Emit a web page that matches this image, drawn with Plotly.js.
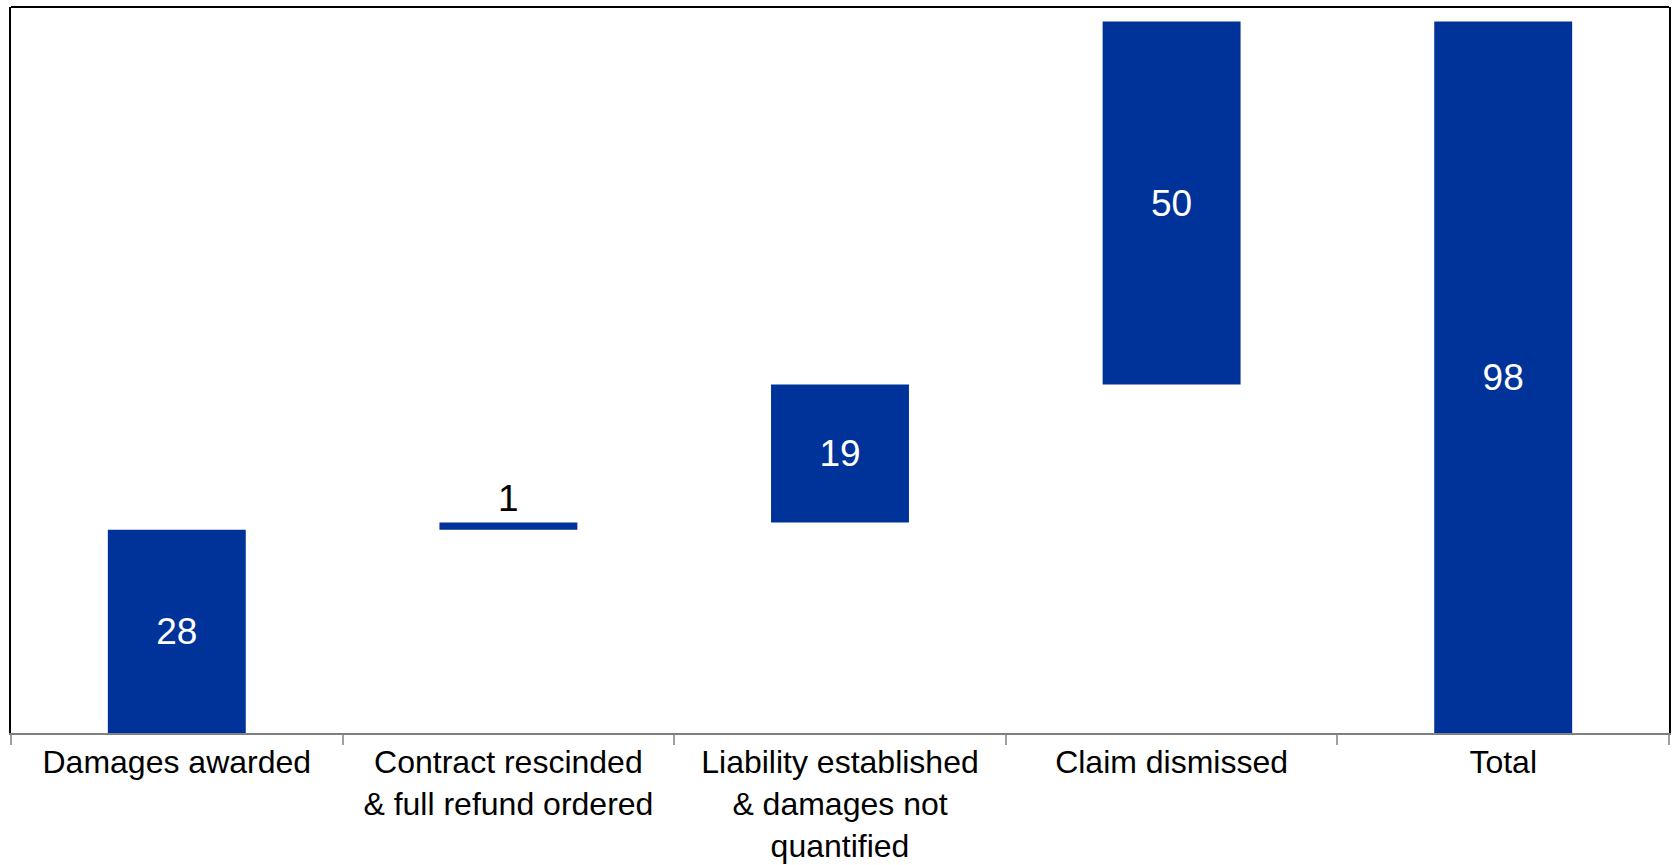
<!DOCTYPE html>
<html>
<head>
<meta charset="utf-8">
<script src="https://cdn.plot.ly/plotly-3.0.1.min.js"></script>
<style>html,body{margin:0;padding:0;background:#fff;}#chart{width:1675px;height:865px;}</style>
</head>
<body>
<div id="chart"></div>
<script>
var categories = [
  "Damages awarded",
  "Contract rescinded<br>& full refund ordered",
  "Liability established<br>& damages not<br>quantified",
  "Claim dismissed",
  "Total"
];
var values = [28, 1, 19, 50, 98];
var measures = ["relative", "relative", "relative", "relative", "total"];
var labels = ["28", "1", "19", "50", "98"];
var labelPositions = ["inside", "outside", "inside", "inside", "inside"];

var barColor = "#003399";

var trace = {
  type: "waterfall",
  x: categories,
  y: values,
  measure: measures,
  text: labels,
  textposition: labelPositions,
  insidetextanchor: "middle",
  textinfo: "text",
  insidetextfont: {family: "Liberation Sans, Arial, sans-serif", size: 37, color: "#ffffff"},
  outsidetextfont: {family: "Liberation Sans, Arial, sans-serif", size: 37, color: "#000000"},
  textangle: 0,
  constraintext: "none",
  cliponaxis: false,
  increasing: {marker: {color: barColor}},
  decreasing: {marker: {color: barColor}},
  totals: {marker: {color: barColor}},
  connector: {visible: false},
  hoverinfo: "none"
};

var layout = {
  width: 1675,
  height: 865,
  margin: {l: 11, r: 6, t: 7, b: 132},
  paper_bgcolor: "#ffffff",
  plot_bgcolor: "#ffffff",
  showlegend: false,
  waterfallgap: 0.584,
  font: {family: "Liberation Sans, Arial, sans-serif", size: 32, color: "#000000"},
  xaxis: {
    type: "category",
    tickson: "boundaries",
    ticks: "outside",
    ticklen: 10,
    tickwidth: 2,
    tickcolor: "#a0a0a0",
    showline: true,
    linecolor: "#808080",
    linewidth: 2,
    showgrid: false,
    zeroline: false,
    tickfont: {family: "Liberation Sans, Arial, sans-serif", size: 32, color: "#000000"},
    ticklabelstandoff: 0
  },
  yaxis: {
    range: [0, 100],
    showline: true,
    linecolor: "#000000",
    linewidth: 2,
    mirror: true,
    showgrid: false,
    zeroline: false,
    showticklabels: false,
    ticks: ""
  },
  shapes: [{
    type: "line", xref: "paper", yref: "paper",
    x0: 0, x1: 1, y0: 1, y1: 1,
    line: {color: "#000000", width: 2}
  }]
};

Plotly.newPlot("chart", [trace], layout, {displayModeBar: false, staticPlot: true});
</script>
</body>
</html>
